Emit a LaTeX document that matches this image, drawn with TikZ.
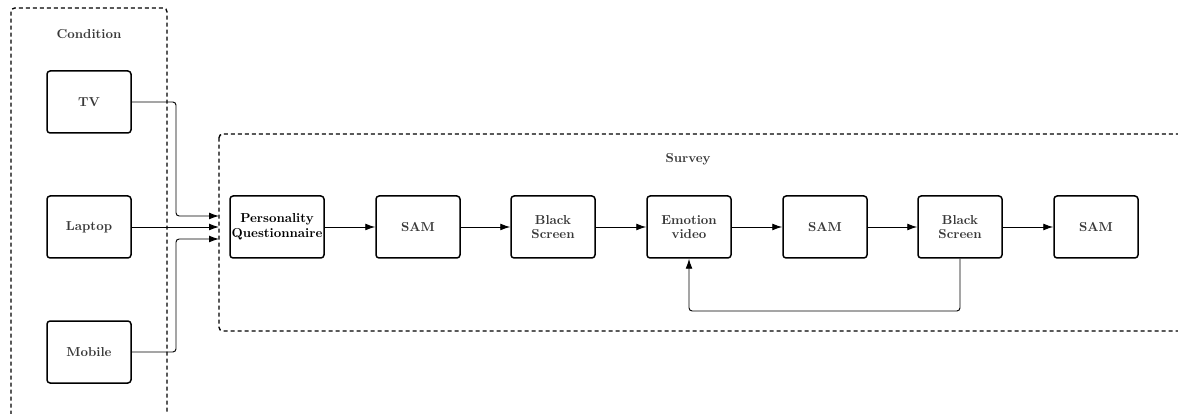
\documentclass[tikz,border=0pt]{standalone}
\usetikzlibrary{arrows.meta}
\begin{document}
\begin{tikzpicture}[x=0.8pt,y=-0.8pt,
  stepbox/.style={draw, line width=1.2pt, rounded corners=2.5pt, minimum width=67.2pt, minimum height=49.6pt, inner sep=1pt, align=center, font=\fontsize{10.4}{11.6}\selectfont\bfseries, text=black!78},
  groupbox/.style={draw, dash pattern=on 3.2pt off 2.4pt, line width=1.1pt, rounded corners=3pt},
  grouplabel/.style={font=\fontsize{10.4}{11.6}\selectfont\bfseries, text=black!78},
  flow/.style={-{Latex[length=8pt,width=5.5pt]}, line width=0.75pt, rounded corners=2.5pt}]
\useasboundingbox (0,0) rectangle (1178,414);
\clip (0,0) rectangle (1178,414);

% group frames
\draw[groupbox] (11,8) rectangle (167,440);
\draw[groupbox] (219,134) rectangle (1200,331);
\node[grouplabel] (condlbl) at (89,34) {Condition};
\node[grouplabel] (survlbl) at (688,159) {Survey};

% device conditions
\node[stepbox] (tv) at (89,102) {TV};
\node[stepbox] (laptop) at (89,227) {Laptop};
\node[stepbox] (mobile) at (89,352) {Mobile};

% survey sequence
\node[stepbox, minimum width=75.2pt, text=black] (pq) at (277,227) {Personality\\Questionnaire};
\node[stepbox] (sam1) at (418,227) {SAM};
\node[stepbox] (bs1) at (553,227) {Black\\Screen};
\node[stepbox] (emo) at (689,227) {Emotion\\video};
\node[stepbox] (sam2) at (825,227) {SAM};
\node[stepbox] (bs2) at (960,227) {Black\\Screen};
\node[stepbox] (sam3) at (1096,227) {SAM};

% entry points on the survey frame
\coordinate (inTV) at (219,216);
\coordinate (inLap) at (219,227);
\coordinate (inMob) at (219,239);

\draw[flow] (tv.east) -| (176,160) |- (inTV);
\draw[flow] (laptop.east) -- (inLap);
\draw[flow] (mobile.east) -| (176,300) |- (inMob);

\draw[flow] (pq) -- (sam1);
\draw[flow] (sam1) -- (bs1);
\draw[flow] (bs1) -- (emo);
\draw[flow] (emo) -- (sam2);
\draw[flow] (sam2) -- (bs2);
\draw[flow] (bs2) -- (sam3);

% repeat loop
\draw[flow] (bs2.south) -- (960,311) -| (emo.south);
\end{tikzpicture}
\end{document}
